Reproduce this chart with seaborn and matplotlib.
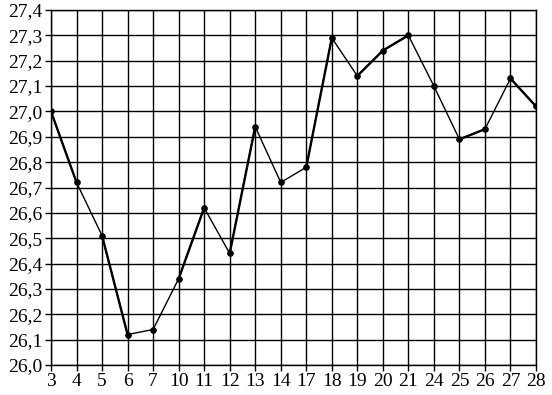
import matplotlib
matplotlib.use("Agg")
import matplotlib.pyplot as plt
import seaborn as sns
import numpy as np
import pandas as pd

days = ["3", "4", "5", "6", "7", "10", "11", "12", "13", "14",
        "17", "18", "19", "20", "21", "24", "25", "26", "27", "28"]
values = [27.00, 26.72, 26.51, 26.12, 26.14, 26.34, 26.62, 26.44, 26.94, 26.72,
          26.78, 27.29, 27.14, 27.24, 27.30, 27.10, 26.89, 26.93, 27.13, 27.02]
# segments (start index) drawn bolder in the original
bold_segments = [0, 2, 5, 7, 10, 12, 13, 16, 18]

y_ticks = [round(26.0 + 0.1 * i, 1) for i in range(15)]

sns.set_theme(style="white")
plt.rcParams['font.family'] = ['Liberation Serif', 'DejaVu Serif']

df = pd.DataFrame({"pos": np.arange(len(days)), "value": values})

fig = plt.figure(figsize=(5.52, 3.95), dpi=100)
ax = fig.add_axes([51 / 552, 1 - 365 / 395, (536 - 51) / 552, (365 - 10) / 395])

sns.lineplot(data=df, x="pos", y="value", ax=ax, color="black", linewidth=1.0,
             marker="o", markersize=4, markeredgecolor="black", zorder=3)
for i in bold_segments:
    seg = df.iloc[i:i + 2]
    sns.lineplot(data=seg, x="pos", y="value", ax=ax, color="black",
                 linewidth=1.7, zorder=3)

ax.set_xlim(0, len(days) - 1)
ax.set_ylim(26.0, 27.4)
ax.set_xticks(np.arange(len(days)))
ax.set_xticklabels(days)
ax.set_yticks(y_ticks)
ax.set_yticklabels([f"{t:.1f}".replace(".", ",") for t in y_ticks])
ax.grid(True, color="black", linewidth=1.0)
ax.set_axisbelow(True)
for s in ax.spines.values():
    s.set_color("black")
    s.set_linewidth(1.0)
ax.tick_params(axis="both", colors="black", labelsize=14, length=4, width=1.0,
               direction="out", bottom=True, left=True, pad=2)
ax.set_xlabel("")
ax.set_ylabel("")
ax.legend_ = None

fig.savefig("out.png", dpi=100)
